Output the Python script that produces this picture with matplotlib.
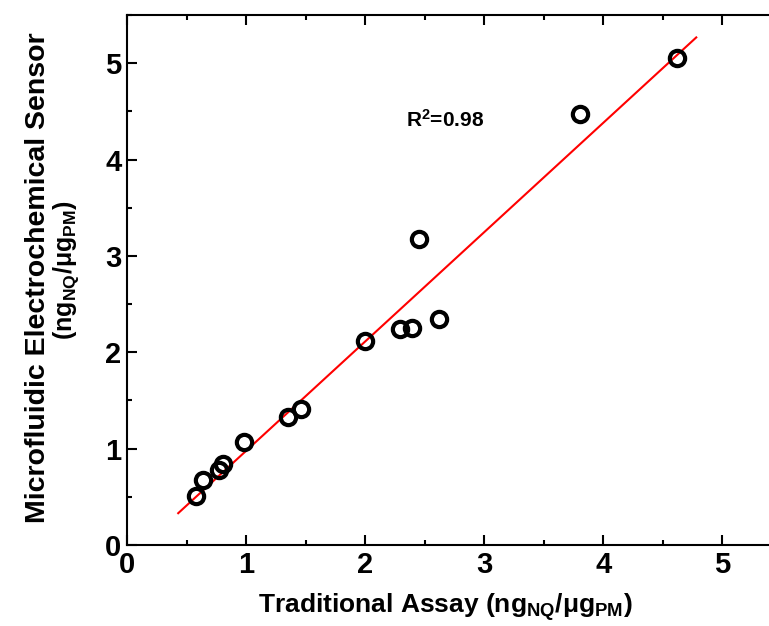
import numpy as np
import matplotlib
matplotlib.use("Agg")
import matplotlib.pyplot as plt
from matplotlib.ticker import MultipleLocator

# data
trad_assay = [0.58, 0.64, 0.77, 0.81, 0.985, 1.35, 1.46, 2.00, 2.29, 2.39, 2.45, 2.62, 3.80, 4.62]
micro_sensor = [0.51, 0.67, 0.78, 0.84, 1.07, 1.33, 1.41, 2.12, 2.24, 2.25, 3.18, 2.35, 4.47, 5.05]

# fitted line as drawn
fit_slope = 1.135
fit_intercept = -0.158
fit_x = [0.43, 4.78]

plt.rcParams['font.family'] = ['Liberation Sans', 'DejaVu Sans']
plt.rcParams['font.weight'] = 'bold'
plt.rcParams['mathtext.fontset'] = 'custom'
plt.rcParams['mathtext.rm'] = 'Liberation Sans:bold'
plt.rcParams['mathtext.it'] = 'Liberation Sans:bold'
plt.rcParams['mathtext.bf'] = 'Liberation Sans:bold'

fig = plt.figure(figsize=(7.69, 6.26), dpi=100)
# right spine sits past the image edge, as in the reference
ax = fig.add_axes([127/769, 81/626, 655/769, 530/626])

fx = np.array(fit_x)
ax.plot(fx, fit_slope*fx + fit_intercept, color='red', lw=1.5, zorder=2)
ax.plot(trad_assay, micro_sensor, 'o', ms=11, mfc='none', mec='black', mew=3, zorder=3)

ax.set_xlim(0, 5.5)
ax.set_ylim(0, 5.5)
ax.xaxis.set_major_locator(MultipleLocator(1))
ax.xaxis.set_minor_locator(MultipleLocator(0.5))
ax.yaxis.set_major_locator(MultipleLocator(1))
ax.yaxis.set_minor_locator(MultipleLocator(0.5))
ax.tick_params(which='both', direction='in', top=True, right=False, width=1.5)
ax.tick_params(which='major', length=7, labelsize=21, pad=4)
ax.tick_params(which='minor', length=3.5)
for s in ax.spines.values():
    s.set_linewidth(1.5)
ax.spines['right'].set_visible(False)
for lab in ax.get_xticklabels() + ax.get_yticklabels():
    lab.set_fontweight('bold')

ax.text(2.67, 4.41, r'R$^2$=0.98', fontsize=15, fontweight='bold', ha='center', va='center')

fig.text(445/769, 1-607/626, r'Traditional Assay $\mathregular{(ng_{NQ}/\mu g_{PM})}$',
         fontsize=19, fontweight='bold', ha='center', va='center')
fig.text(38/769, 1-278/626, 'Microfluidic Electrochemical Sensor',
         fontsize=20.5, fontweight='bold', ha='center', va='center', rotation=90)
fig.text(66/769, 1-270/626, r'$\mathregular{(ng_{NQ}/\mu g_{PM})}$',
         fontsize=18, ha='center', va='center', rotation=90)

fig.savefig('out.png', dpi=100)
